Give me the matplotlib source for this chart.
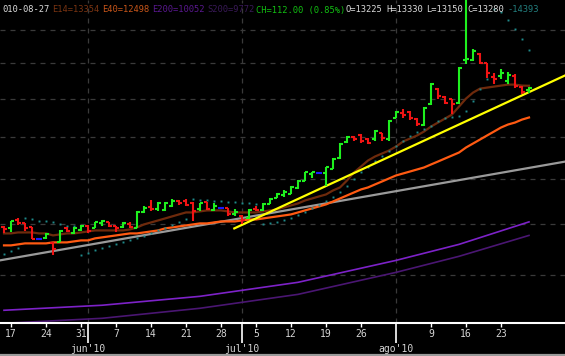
import matplotlib
matplotlib.use("Agg")
import matplotlib.pyplot as plt
import matplotlib.transforms as mtransforms
from matplotlib.collections import LineCollection
from matplotlib.lines import Line2D
import numpy as np
import pandas as pd

# ---------------- data ----------------
dates = pd.bdate_range("2010-05-14", "2010-08-27")

opens = [9936, 9916, 10082, 10020, 9936, 9691, 9712, 9611, 9631, 9916,
         9813, 9874, 9957, 9916, 10020, 10040, 9957, 9936, 9999, 9916,
         10252, 10360, 10317, 10295, 10381, 10489, 10489, 10446, 10317, 10468,
         10295, 10338, 10338, 10210, 10167, 10124, 10317, 10295, 10425, 10555,
         10622, 10644, 10778, 10936, 11097, 11120, 11120, 11236, 11497, 11886,
         12011, 12062, 11961, 11961, 12112, 11961, 12496, 12627, 12653, 12470,
         12316, 12866, 13274, 13055, 13001, 12893, 14101, 14101, 14278, 14013,
         13611, 13639, 13497, 13639, 13330, 13225]
highs = [9957, 10061, 10124, 10020, 9936, 9691, 9813, 9631, 9874, 9936,
         9936, 9978, 9978, 10040, 10082, 10040, 9957, 10040, 10040, 10274,
         10381, 10511, 10468, 10468, 10533, 10511, 10533, 10468, 10446, 10468,
         10446, 10338, 10338, 10317, 10188, 10317, 10381, 10446, 10555, 10666,
         10733, 10823, 10959, 11166, 11143, 11120, 11283, 11497, 11862, 12037,
         12037, 12087, 11986, 12188, 12112, 12444, 12679, 12733, 12679, 12496,
         12786, 13441, 13302, 13083, 13001, 13897, 16100, 14427, 14308, 14013,
         13724, 13839, 13753, 13696, 13358, 13330]
lows = [9813, 9833, 9978, 9854, 9691, 9691, 9691, 9374, 9631, 9833,
        9793, 9854, 9813, 9916, 9957, 9936, 9833, 9916, 9916, 9916,
        10231, 10274, 10274, 10274, 10360, 10403, 10381, 10061, 10274, 10295,
        10274, 10338, 10167, 10167, 9999, 10103, 10274, 10274, 10425, 10555,
        10578, 10644, 10756, 10936, 11005, 11120, 10823, 11236, 11473, 11862,
        11911, 11862, 11837, 11911, 11911, 11911, 12496, 12496, 12444, 12290,
        12290, 12839, 13001, 12866, 12601, 12866, 13984, 14071, 13984, 13582,
        13414, 13554, 13414, 13302, 13137, 13150]
closes = [9895, 10061, 10020, 9916, 9691, 9691, 9793, 9491, 9854, 9854,
          9916, 9957, 9854, 10040, 10061, 9957, 9916, 10020, 9936, 10252,
          10338, 10317, 10446, 10446, 10489, 10446, 10403, 10274, 10446, 10317,
          10381, 10338, 10210, 10252, 10082, 10295, 10295, 10425, 10533, 10644,
          10689, 10801, 10936, 11143, 11143, 11120, 11260, 11473, 11837, 12011,
          11961, 11911, 11862, 12162, 11986, 12418, 12653, 12575, 12496, 12341,
          12759, 13414, 13083, 12893, 12866, 13868, 14130, 14367, 14013, 13724,
          13554, 13724, 13667, 13358, 13168, 13280]

e14 = [9813, 9813, 9833, 9833, 9833, 9813, 9813, 9772, 9793, 9813,
       9813, 9833, 9854, 9874, 9874, 9874, 9874, 9874, 9895, 9936,
       9999, 10040, 10082, 10124, 10167, 10210, 10252, 10252, 10274, 10295,
       10295, 10295, 10274, 10252, 10252, 10252, 10252, 10274, 10295, 10317,
       10360, 10403, 10446, 10511, 10555, 10600, 10644, 10733, 10801, 10959,
       11143, 11283, 11425, 11521, 11593, 11665, 11763, 11886, 11961, 12037,
       12137, 12264, 12367, 12470, 12575, 12786, 13001, 13164, 13274, 13302,
       13330, 13358, 13386, 13386, 13358, 13354]
e40 = [9571, 9571, 9591, 9611, 9611, 9611, 9611, 9631, 9631, 9631,
       9651, 9671, 9671, 9712, 9732, 9752, 9772, 9793, 9813, 9813,
       9833, 9854, 9874, 9916, 9936, 9957, 9978, 9999, 10020, 10020,
       10040, 10061, 10061, 10061, 10082, 10103, 10103, 10124, 10146, 10167,
       10188, 10210, 10252, 10295, 10338, 10381, 10425, 10489, 10555, 10622,
       10689, 10756, 10801, 10869, 10936, 11005, 11074, 11120, 11166, 11213,
       11260, 11331, 11401, 11473, 11545, 11617, 11739, 11837, 11936, 12037,
       12137, 12239, 12316, 12367, 12444, 12498]
sar = [9393, 9452, 9511, 10124, 10103, 10061, 10061, 10040, 9999, 9957,
       9957, 9374, 9413, 9471, 9511, 9551, 9591, 9631, 9671, 9712,
       9752, 9813, 9874, 9916, 9978, 10040, 10103, 10533, 10511, 10511,
       10489, 10489, 10468, 10468, 10446, 10446, 10425, 9999, 10020, 10040,
       10082, 10124, 10188, 10252, 10338, 10403, 10489, 10578, 10689, 10823,
       10982, 11143, 11283, 11425, 11545, 11665, 11788, 11911, 12037, 12137,
       12213, 12290, 12418, 12496, 12522, 12549, 12679, 12946, 13274, 13554,
       15681, 15583, 15326, 15041, 14731, 14393]

ma200_idx = [0, 14, 28, 42, 56, 65, 75]
e200 = [8359, 8447, 8606, 8861, 9276, 9591, 10052]
s200 = [8135, 8220, 8394, 8641, 9047, 9355, 9772]

gray_trend_idx = [0, 75]
gray_trend_val = [9290, 11250]
yellow_trend_idx = [32.9, 80.1]
yellow_trend_val = [9916, 13639]

grid_levels = [9000, 10000, 11000, 12000, 13000, 14000, 15000]

header = [
    ("010-08-27", "#dcdcdc", 2),
    ("E14=13354", "#7a3412", 52),
    ("E40=12498", "#c8561a", 102),
    ("E200=10052", "#5a1890", 152),
    ("S200=9772", "#3a1a58", 207),
    ("CH=112.00 (0.85%)", "#12c012", 256),
    ("O=13225", "#dcdcdc", 346),
    ("H=13330", "#dcdcdc", 386),
    ("L=13150", "#dcdcdc", 426),
    ("C=13280", "#dcdcdc", 467),
    ("-14393", "#237f7f", 507),
]

# ---------------- figure ----------------
W, H = 565, 356
fig = plt.figure(figsize=(W / 100, H / 100), dpi=100, facecolor="black")
ax = fig.add_axes([0, 33 / H, 1, 323 / H])
ax.set_facecolor("black")
ax.set_yscale("log")
ax.set_ylim(8140, 15970)
ax.set_xlim(-4 / 7, 561 / 7)

x = np.arange(len(dates))
months = pd.Series(dates.month)
month_idx = [i for i in range(len(dates)) if i > 0 and months[i] != months[i - 1]]
monday_idx = [i for i in range(len(dates)) if dates[i].weekday() == 0 and i not in month_idx]

# grid
for lv in grid_levels:
    ax.axhline(lv, color="#3a3a3a", lw=0.9, ls=(0, (4, 4)), zorder=0)
for mi in month_idx:
    ax.axvline(mi, color="#3a3a3a", lw=0.9, ls=(0, (4, 4)), zorder=0)

# moving averages
ax.plot(ma200_idx, s200, color="#4a1672", lw=1.2, zorder=2)
ax.plot(ma200_idx, e200, color="#7d22c8", lw=1.2, zorder=2)
ax.axline((gray_trend_idx[0], gray_trend_val[0]), (gray_trend_idx[1], gray_trend_val[1]),
          color="#9a9a9a", lw=1.6, zorder=2)
ax.plot(x, e40, color="#ff5a12", lw=1.6, zorder=3)
ax.plot(x, e14, color="#6e2a0c", lw=1.6, zorder=3)
ax.plot(yellow_trend_idx, yellow_trend_val, color="#ffff00", lw=1.6, zorder=4)

# SAR dots
ax.plot(x, sar, ls="none", marker="s", ms=1.4, mew=0, color="#1f8a8a", zorder=3)

# OHLC bars
tick = 0.43
segs = {"up": [], "down": [], "flat": []}
for i in range(len(dates)):
    o, h, l, c = opens[i], highs[i], lows[i], closes[i]
    key = "up" if c > o else ("down" if c < o else "flat")
    segs[key].append([(i, l), (i, h)])
    segs[key].append([(i - tick, o), (i, o)])
    segs[key].append([(i, c), (i + tick, c)])
colors = {"up": "#1ef01e", "down": "#f01414", "flat": "#1a1aff"}
for k, s in segs.items():
    ax.add_collection(LineCollection(s, colors=colors[k], linewidths=1.5, zorder=5,
                                     capstyle="butt"))

# axes styling
for sp in ["left", "right", "top"]:
    ax.spines[sp].set_visible(False)
ax.spines["bottom"].set_color("white")
ax.spines["bottom"].set_linewidth(1.5)
ax.set_yticks([])
ax.set_yticks([], minor=True)
ax.set_xticks(monday_idx)
ax.set_xticklabels([str(dates[i].day) for i in monday_idx])
ax.set_xticks(month_idx, minor=True)
ax.tick_params(axis="x", which="major", colors="white", length=3, width=1,
               labelcolor="#d4d4d4", labelsize=7, pad=1.5)
ax.tick_params(axis="x", which="minor", colors="white", length=14.5, width=1.2)
for lab in ax.get_xticklabels():
    lab.set_family("DejaVu Sans Mono")

month_names = {6: "jun'10", 7: "jul'10", 8: "ago'10"}
trans = mtransforms.blended_transform_factory(ax.transData, ax.transAxes)
for mi in month_idx:
    ax.text(mi, -25.5 / 323, month_names[dates[mi].month], transform=trans,
            ha="center", va="center", color="#d4d4d4", fontsize=7,
            family="DejaVu Sans Mono")

# header texts
for txt, col, px in header:
    fig.text(px / W, 1 - 10 / H, txt, color=col, fontsize=6.3,
             family="DejaVu Sans Mono", ha="left", va="center")

fig.add_artist(Line2D([0, 1], [1.2 / H, 1.2 / H], transform=fig.transFigure,
                      color="#9a9a9a", lw=1.6))

fig.savefig("out.png", dpi=100, facecolor="black")
